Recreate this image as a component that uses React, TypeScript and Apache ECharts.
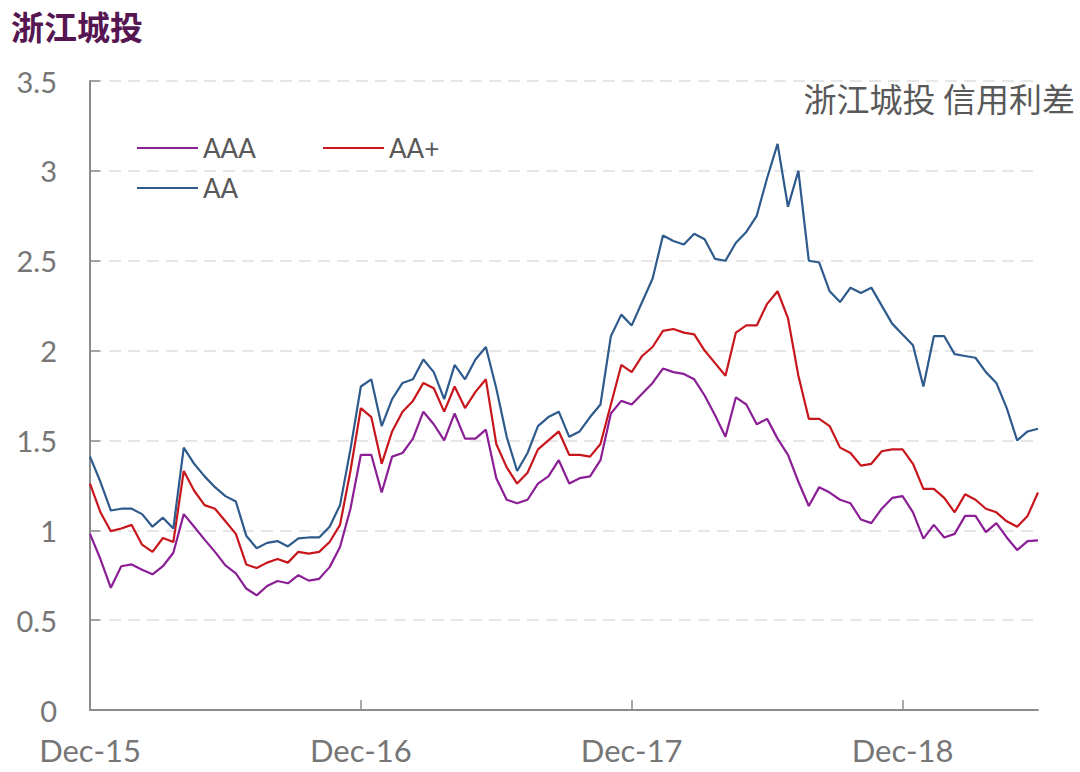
import React, { useEffect, useRef } from 'react';
import * as echarts from 'echarts';

// 两周一个点，Dec-15 起
const tickLabels = ['Dec-15', 'Dec-16', 'Dec-17', 'Dec-18'];
const stepsPerYear = 26;

const aaa = [
  0.98, 0.84, 0.68, 0.8, 0.81, 0.78, 0.755, 0.8, 0.875, 1.09,
  1.02, 0.948, 0.88, 0.805, 0.76, 0.676, 0.638, 0.69, 0.718, 0.705,
  0.75, 0.72, 0.73, 0.795, 0.907, 1.12, 1.42, 1.42, 1.21, 1.41,
  1.43, 1.51, 1.66, 1.59, 1.5, 1.65, 1.51, 1.51, 1.56, 1.29,
  1.17, 1.15, 1.17, 1.26, 1.3, 1.39, 1.26, 1.29, 1.3, 1.39,
  1.65, 1.72, 1.7, 1.76, 1.82, 1.9, 1.88, 1.87, 1.84, 1.75,
  1.64, 1.52, 1.74, 1.7, 1.59, 1.62, 1.51, 1.42, 1.27, 1.135,
  1.24, 1.21, 1.17, 1.15, 1.06, 1.04, 1.12, 1.18, 1.19, 1.1,
  0.954, 1.03, 0.96, 0.98, 1.08, 1.08, 0.99, 1.04, 0.96, 0.89,
  0.94, 0.944
];

const aaPlus = [
  1.26, 1.1, 0.995, 1.01, 1.03, 0.92, 0.88, 0.957, 0.935, 1.33,
  1.22, 1.14, 1.12, 1.05, 0.98, 0.81, 0.79, 0.82, 0.84, 0.82,
  0.88, 0.87, 0.88, 0.935, 1.03, 1.33, 1.68, 1.63, 1.37, 1.55,
  1.66, 1.72, 1.82, 1.79, 1.66, 1.8, 1.68, 1.77, 1.84, 1.48,
  1.35, 1.26, 1.32, 1.45, 1.5, 1.55, 1.42, 1.42, 1.41, 1.48,
  1.7, 1.92, 1.88, 1.97, 2.02, 2.11, 2.12, 2.1, 2.09, 2.0,
  1.93, 1.86, 2.1, 2.14, 2.14, 2.26, 2.33, 2.18, 1.86, 1.62,
  1.62, 1.58, 1.46, 1.43, 1.36, 1.37, 1.44, 1.45, 1.45, 1.37,
  1.23, 1.23, 1.18, 1.1, 1.2, 1.17, 1.12, 1.1, 1.05, 1.02,
  1.08, 1.21
];

const aa = [
  1.41, 1.27, 1.11, 1.12, 1.12, 1.09, 1.02, 1.07, 1.01, 1.46,
  1.37, 1.3, 1.24, 1.19, 1.16, 0.97, 0.9, 0.93, 0.94, 0.91,
  0.955, 0.96, 0.96, 1.02, 1.14, 1.45, 1.8, 1.84, 1.58, 1.73,
  1.82, 1.84, 1.95, 1.88, 1.73, 1.92, 1.84, 1.95, 2.02, 1.79,
  1.52, 1.33, 1.43, 1.58, 1.63, 1.66, 1.52, 1.55, 1.63, 1.7,
  2.08, 2.2, 2.14, 2.27, 2.4, 2.64, 2.61, 2.59, 2.65, 2.62,
  2.51, 2.5, 2.6, 2.66, 2.75, 2.96, 3.15, 2.8, 3.0, 2.5,
  2.49, 2.33, 2.27, 2.35, 2.32, 2.35, 2.25, 2.15, 2.09, 2.03,
  1.8, 2.08, 2.08, 1.98, 1.97, 1.96, 1.88, 1.82, 1.68, 1.5,
  1.55, 1.565
];

const categories = aa.map((_, i) =>
  i % stepsPerYear === 0 ? tickLabels[i / stepsPerYear] : String(i)
);

const isYearTick = (i: number) => i % stepsPerYear === 0;

const labelFont = 'Lato, "Noto Sans CJK SC", sans-serif';
const cjkFont = '"Noto Sans CJK SC", "Noto Sans", sans-serif';

const App: React.FC = () => {
  const chartRef = useRef<HTMLDivElement>(null);

  useEffect(() => {
    if (!chartRef.current) return;
    const chart = echarts.init(chartRef.current, undefined, { renderer: 'svg' });

    const legendText = { fontSize: 26, color: '#595959', fontFamily: labelFont };
    const legendBase = {
      icon: 'rect',
      itemWidth: 61,
      itemHeight: 2,
      itemGap: 0,
      padding: 0,
      textStyle: legendText
    };

    const option: echarts.EChartsOption = {
      animation: false,
      backgroundColor: '#ffffff',
      title: [
        {
          text: '浙江城投',
          left: 6,
          top: 4,
          textStyle: {
            fontSize: 33,
            fontWeight: 'bold',
            color: '#561652',
            fontFamily: cjkFont
          }
        },
        {
          text: '浙江城投 信用利差',
          right: 0,
          top: 76,
          textStyle: {
            fontSize: 33,
            fontWeight: 'normal',
            color: '#595959',
            fontFamily: cjkFont
          }
        }
      ],
      legend: [
        { ...legendBase, left: 137, top: 135, data: ['AAA'] },
        { ...legendBase, left: 323, top: 135, data: ['AA+'] },
        { ...legendBase, left: 137, top: 175, data: ['AA'] }
      ],
      grid: {
        left: 90,
        top: 81,
        width: 948,
        height: 629
      },
      xAxis: {
        type: 'category',
        data: categories,
        boundaryGap: false,
        axisLine: { lineStyle: { color: '#8c8c8c', width: 2 } },
        axisTick: {
          inside: true,
          length: 10,
          interval: (i: number) => isYearTick(i),
          lineStyle: { color: '#8c8c8c', width: 1.5 }
        },
        axisLabel: {
          interval: (i: number) => isYearTick(i),
          margin: 24,
          fontSize: 31,
          color: '#767676',
          fontFamily: labelFont
        },
        splitLine: { show: false }
      },
      yAxis: {
        type: 'value',
        min: 0,
        max: 3.5,
        interval: 0.5,
        axisLine: { show: true, lineStyle: { color: '#8c8c8c', width: 2 } },
        axisTick: {
          show: true,
          inside: true,
          length: 10,
          lineStyle: { color: '#8c8c8c', width: 1.5 }
        },
        axisLabel: {
          margin: 33,
          fontSize: 29,
          color: '#767676',
          fontFamily: labelFont
        },
        splitLine: {
          show: true,
          lineStyle: { color: '#dedede', width: 1.5, type: [12, 7] }
        }
      },
      series: [
        {
          name: 'AAA',
          type: 'line',
          data: aaa,
          showSymbol: false,
          color: '#8a1f96',
          lineStyle: { width: 2.2, color: '#8a1f96' }
        },
        {
          name: 'AA+',
          type: 'line',
          data: aaPlus,
          showSymbol: false,
          color: '#c8161d',
          lineStyle: { width: 2.2, color: '#c8161d' }
        },
        {
          name: 'AA',
          type: 'line',
          data: aa,
          showSymbol: false,
          color: '#2e5a8c',
          lineStyle: { width: 2.2, color: '#2e5a8c' }
        }
      ]
    };

    chart.setOption(option);
    return () => {
      chart.dispose();
    };
  }, []);

  return (
    <div
      ref={chartRef}
      style={{ position: 'absolute', left: 0, top: 0, width: 1080, height: 772 }}
    />
  );
};

export default App;
